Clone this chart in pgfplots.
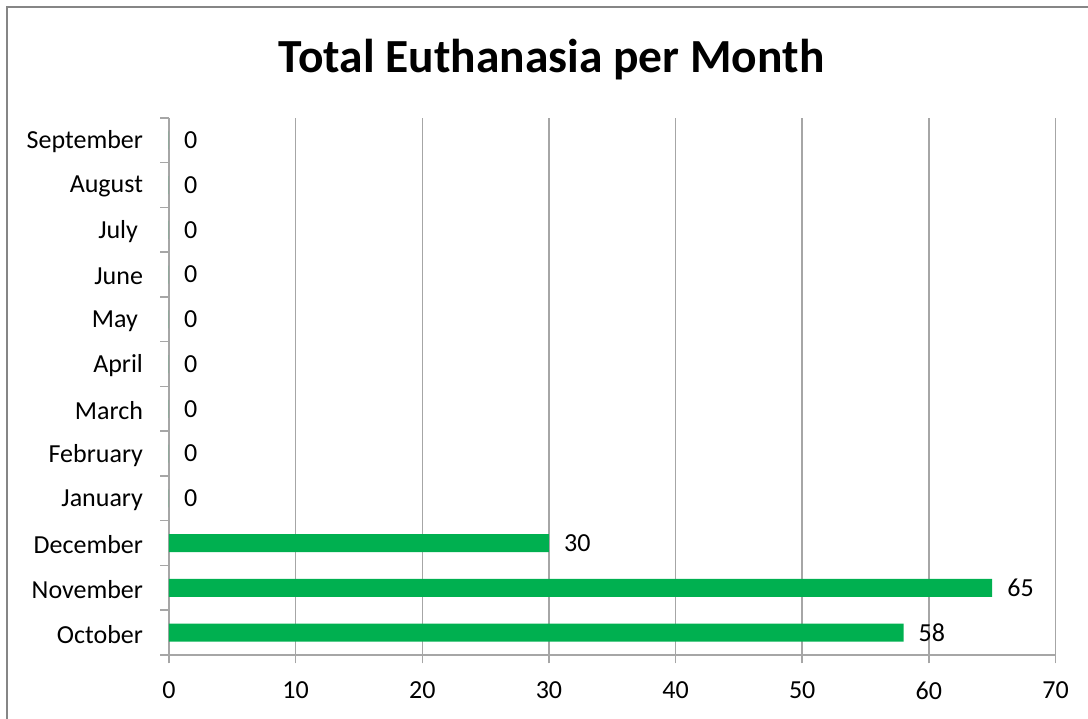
\documentclass[border=0pt]{standalone}
\usepackage{fontspec}
\setmainfont{Carlito}
\usepackage{pgfplots}
\pgfplotsset{compat=1.18}
\definecolor{barg}{RGB}{0,176,80}
\definecolor{gridg}{RGB}{166,166,166}
\definecolor{frameg}{RGB}{134,134,134}
\begin{document}
\begin{tikzpicture}[x=1pt,y=1pt]
\useasboundingbox (0,0) rectangle (1088,719);
\draw[frameg, line width=2.5pt] (7,0) -- (7,712) -- (1088,712);
\node[anchor=base, inner sep=0pt, font=\fontsize{47.5}{56}\selectfont\bfseries] at (551.5,646) {Total Euthanasia per Month};
\begin{axis}[
  at={(169pt,64pt)}, anchor=south west,
  scale only axis, width=886.5pt, height=537pt,
  xbar, bar width=18pt,
  xmin=0, xmax=70, ymin=-0.5, ymax=11.5,
  axis x line*=bottom, axis y line*=left,
  axis line style={gridg, line width=1.5pt},
  tick align=outside,
  major tick length=8.5pt,
  /pgf/number format/assume math mode=true,
  xtick={0,10,...,70},
  xmajorgrids, major grid style={gridg, line width=1.5pt},
  xtick style={gridg, line width=1.5pt},
  ytick={0,...,11},
  yticklabels={October,November,December,January,February,March,April,{May\kern5pt},June,{July\kern5pt},August,September},
  ytick style={draw=none},
  extra y ticks={-0.5,0.5,...,11.5},
  extra y tick labels={},
  extra y tick style={ytick style={draw=gridg, line width=1.5pt}},
  ticklabel style={font=\fontsize{26}{31}\selectfont, text=black},
  xticklabel style={yshift=-15pt},
  yticklabel style={xshift=-14pt, yshift=-1.5pt},
  nodes near coords,
  every node near coord/.append style={anchor=west, inner sep=0pt, xshift=15pt, font=\fontsize{26}{31}\selectfont, text=black},
]
\addplot[draw=none, fill=barg] coordinates {
 (58,0) (65,1) (30,2) (0,3) (0,4) (0,5) (0,6) (0,7) (0,8) (0,9) (0,10) (0,11)
};
\end{axis}
\end{tikzpicture}
\end{document}
